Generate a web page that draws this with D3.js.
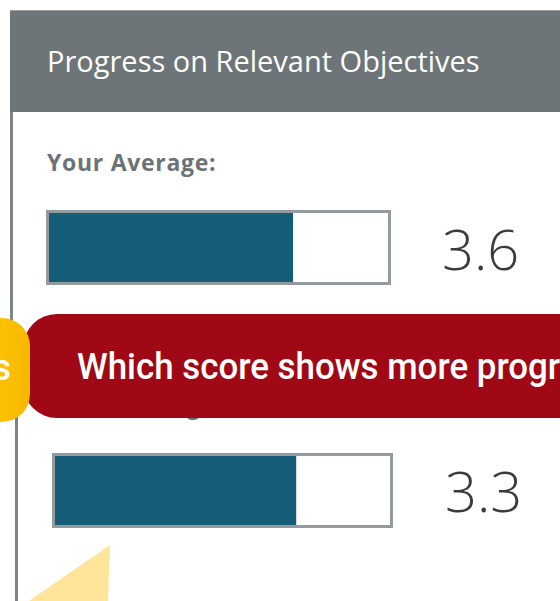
<!DOCTYPE html>
<html>
<head>
<meta charset="utf-8">
<script src="https://cdn.jsdelivr.net/npm/d3@7"></script>
<style>
  html, body { margin: 0; padding: 0; background: #fff; overflow: hidden; }
  svg { display: block; }
</style>
</head>
<body>
<svg id="chart"></svg>
<script>
// data
var title = "Progress on Relevant Objectives";
var rowLabels = ["Your Average:", "Your Average:"];
var barLevels = [3.6, 3.6];          // filled length of each bar (5-point scale)
var shownScores = ["3.6", "3.3"];    // number printed next to each bar
var scaleMax = 5;
var bannerText = "Which score shows more progress?";
var tabText = "s";

var W = 560, H = 601;

var svg = d3.select("#chart")
    .attr("width", W)
    .attr("height", H);

// panel header
svg.append("rect")
    .attr("x", 10).attr("y", 10)
    .attr("width", W - 10).attr("height", 102)
    .attr("fill", "#6d7578");
svg.append("line")
    .attr("x1", 10).attr("x2", W).attr("y1", 10.5).attr("y2", 10.5)
    .attr("stroke", "#9aa0a3").attr("stroke-width", 1);
svg.append("text")
    .attr("x", 47).attr("y", 72)
    .attr("fill", "#fff")
    .attr("font-family", "'Open Sans', sans-serif")
    .attr("font-size", 29)
    .text(title);

// left border of the panel body (lower part sits a few px to the right)
svg.append("line")
    .attr("x1", 11.5).attr("x2", 11.5).attr("y1", 112).attr("y2", 330)
    .attr("stroke", "#7e8588").attr("stroke-width", 3);
svg.append("line")
    .attr("x1", 16.5).attr("x2", 16.5).attr("y1", 400).attr("y2", H)
    .attr("stroke", "#7e8588").attr("stroke-width", 3);

// rows
var yRow = d3.scalePoint()
    .domain(d3.range(barLevels.length))
    .range([210, 453]);

var rows = svg.selectAll("g.row")
    .data(barLevels)
    .enter().append("g")
    .attr("class", "row")
    .attr("transform", (d, i) => `translate(${46 + i * 6}, ${yRow(i)})`);

var barH = 75;

rows.each(function(d, i) {
    var g = d3.select(this);
    var outerW = 345 - i * 4;
    var x = d3.scaleLinear()
        .domain([0, scaleMax])
        .range([0, outerW - 6]);

    g.append("text")
        .attr("x", 1).attr("y", -39)
        .attr("fill", "#6b7377")
        .attr("font-family", "'Open Sans', sans-serif")
        .attr("font-weight", 700)
        .attr("font-size", 23)
        .attr("letter-spacing", 0.7)
        .text(rowLabels[i]);

    g.append("rect")
        .attr("x", 1.5).attr("y", 1.5)
        .attr("width", outerW - 3).attr("height", barH - 3)
        .attr("fill", "#fff")
        .attr("stroke", "#939b9e")
        .attr("stroke-width", 3);

    g.append("rect")
        .attr("x", 3).attr("y", 3)
        .attr("width", x(d)).attr("height", barH - 6)
        .attr("fill", "#165e78");

    g.append("text")
        .attr("x", 396 - i * 3).attr("y", 60 - i)
        .attr("fill", "#3b3b3b")
        .attr("font-family", "'Open Sans', sans-serif")
        .attr("font-weight", 300)
        .attr("font-size", 56)
        .text(shownScores[i]);
});

// red question banner
svg.append("rect")
    .attr("x", 23).attr("y", 314)
    .attr("width", W + 60).attr("height", 104)
    .attr("rx", 34)
    .attr("fill", "#a10816");
var banner = svg.append("text")
    .attr("x", 0).attr("y", 0)
    .attr("fill", "#fff")
    .attr("font-family", "Roboto, sans-serif")
    .attr("font-weight", 500)
    .attr("font-size", 37)
    .text(bannerText);
// fit so that "...progr" reaches the right edge, as in the picture
var visLen = banner.node().getSubStringLength(0, "Which score shows more progr".length);
var sx = (560 - 77) / visLen;
banner.attr("transform", `translate(77, 379) scale(${sx}, 1)`);

// yellow tab on the left
var defs = svg.append("defs");
var grad = defs.append("linearGradient").attr("id", "tabGrad")
    .attr("x1", 0).attr("x2", 1).attr("y1", 0).attr("y2", 0);
grad.append("stop").attr("offset", "0.6").attr("stop-color", "#fdc300");
grad.append("stop").attr("offset", "1").attr("stop-color", "#f6b800");

svg.append("rect")
    .attr("x", -60).attr("y", 318)
    .attr("width", 90).attr("height", 104)
    .attr("rx", 28)
    .attr("fill", "url(#tabGrad)");
svg.append("text")
    .attr("x", 0).attr("y", 0)
    .attr("transform", `translate(11, 380) scale(${sx}, 1)`)
    .attr("text-anchor", "end")
    .attr("fill", "#fff")
    .attr("font-family", "Roboto, sans-serif")
    .attr("font-weight", 500)
    .attr("font-size", 37)
    .text(tabText);

// pale yellow corner at the bottom
svg.append("path")
    .attr("d", d3.line()([[29, H], [110, 545], [108, H]]))
    .attr("fill", "#fee599");
</script>
</body>
</html>
